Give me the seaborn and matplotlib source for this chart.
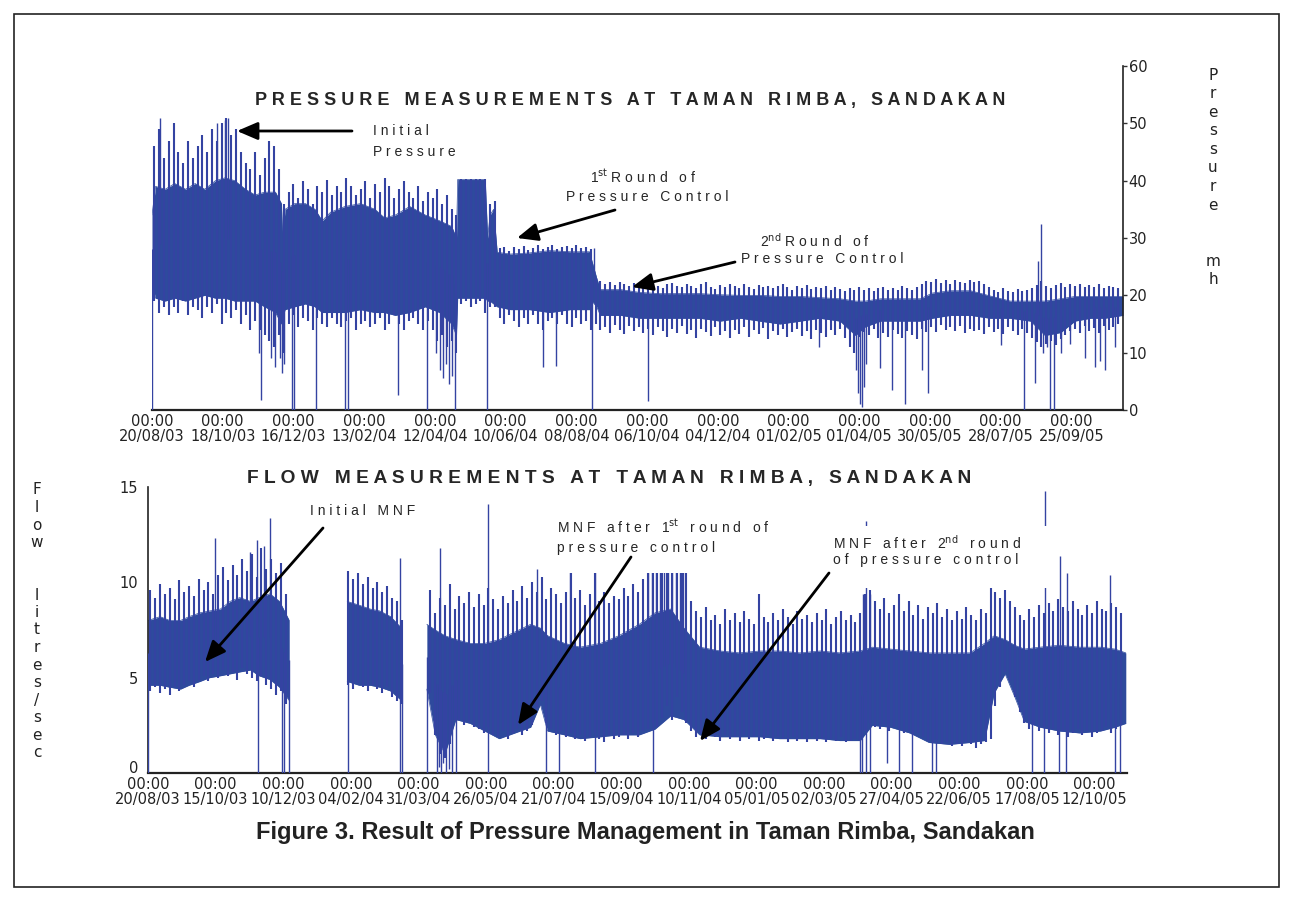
import numpy as np
import pandas as pd
import seaborn as sns
import matplotlib.pyplot as plt
from matplotlib.patches import Rectangle, FancyArrowPatch

W, H = 1293, 902
START = pd.Timestamp("2003-08-20")
FILL = "#2e4a9d"
LINE = "#3443a2"
STEP = 4  # fringe samples are every 4 days

# ---- pressure (m h), days counted from 20/08/03 ----
# solid core of the daily swing
p_day = [0, 3, 11, 19, 28, 36, 44, 53, 61, 69, 78, 86, 94, 103, 108, 109, 111, 119, 128, 136,
         142, 149, 161, 174, 186, 194, 203, 215, 228, 240, 250, 254, 255, 278, 280, 282, 285,
         288, 299, 315, 332, 349, 365, 367, 371, 374, 391, 407, 424, 441, 457, 474, 491, 507,
         524, 541, 557, 574, 587, 595, 608, 624, 641, 651, 666, 683, 699, 716, 733, 745, 758,
         770, 783, 795, 810]
p_top = [34, 39, 38.5, 39.5, 38.5, 39.5, 38.5, 40, 40.5, 40, 38.5, 37.5, 38, 38, 36, 30, 35, 36, 36, 35,
         33, 34.5, 35.5, 36, 35, 33.5, 34, 35.5, 34, 33, 32, 30, 40.2, 40.2, 30, 34, 35,
         27.5, 27.2, 27.4, 27.8, 27.6, 27.6, 26, 23, 21, 21, 20.5, 20.3, 20.3, 20.3, 20.1, 20, 20,
         19.8, 19.8, 19.6, 19.4, 19, 19, 19.4, 19.4, 19.4, 20.4, 20.8, 20.8, 19.9, 19, 19, 19, 19.4,
         19.8, 19.8, 19.8, 19.8]
p_bot = [22, 19.5, 19, 19.5, 19, 19.5, 20, 19.5, 19.5, 19, 19, 19, 18, 17, 15, 16, 17.5, 18, 18.5, 18,
         17, 17, 17, 17.5, 17, 17, 16.5, 17, 18, 17, 15, 13, 19.5, 19.5, 19, 19, 18.5,
         18, 17.5, 17.5, 17, 17.5, 17.5, 19, 18, 16.5, 16.5, 16, 16, 16, 16, 15.5, 16, 15.5,
         15, 15.5, 16, 15.5, 13, 14.5, 15.5, 15.5, 15.5, 16, 16.5, 16.5, 16, 16, 15.5, 13, 13.5,
         15.5, 16, 16, 16.5]
# daily highs / lows, one every STEP days starting on day 2
p_hi = [46, 49, 44, 47, 50, 45, 43, 47, 44, 46, 48, 45, 49, 47, 50, 51, 48, 49, 45, 43,
        42, 45, 41, 44, 47, 46, 42,
        36,
        38, 39.5, 37, 40, 38.5, 36, 39, 38, 40.2, 37.5, 39, 38, 40.5, 39, 37.5, 38.5, 40, 37,
        39.5, 38, 40.5, 39, 37, 38.5, 40, 38, 37, 39, 36.5, 38, 37, 38.5, 36, 37.5, 35,
        34,
        40.3, 40.3, 40.3, 40.3, 40.3,
        40.3, 36, 36.5,
        28.2, 28.5, 27.8, 28.4, 28, 28.6, 27.9, 28.3, 28.7, 28.1, 28.5, 28.8, 28, 28.4, 28.6,
        28.2, 28.7, 28.3, 28.5,
        28,
        23, 22.5, 22, 22.4, 21.8, 22.3, 22, 21.6, 22.2, 21.8,
        22, 21.5, 22.1, 21.7, 21.3, 21.9, 22.2, 21.6, 21.4, 22,
        21.7, 21.2, 21.9, 22.3, 21.5, 21.1, 21.8, 21.4, 22, 21.6,
        21.3, 21.9, 21.5, 21.1, 21.8, 21.4, 21.7, 21.2, 21.6, 21.9,
        21.4, 21, 21.6, 21.3, 21.8, 21.1, 21.5, 21.2, 21.7, 21,
        21.4, 21.1, 20.8, 21.3, 20.9, 21.5, 21, 21.3, 20.8, 21.2,
        21.5, 20.9, 21.3, 21, 21.6, 21.2, 20.9, 21.4, 22, 22.5,
        22.3, 22.8, 22.2, 22.6, 22, 22.7, 22.4, 22.1, 22.6, 22.3,
        22.5, 22, 21.4, 21, 20.6, 21.2, 20.8, 20.5, 21.1, 20.7,
        20.9, 21.3, 21.8, 22.5, 21.6, 21.2, 21.8, 22.1, 21.5, 21.9,
        21.6, 22, 21.4, 21.8, 21.5, 21.9, 21.3, 21.7, 21.4, 21.2]
p_lo = [19, 17, 18, 16.5, 18, 17, 19, 16.5, 18, 17.5, 16, 18, 17, 18.5, 15, 17, 16, 17.5, 15, 16.5,
        14, 15.5, 14, 13, 12, 11, 13,
        10,
        15, 16.5, 14.5, 16, 15.5, 14, 16, 15, 14.5, 16, 15, 14.5, 15.5, 16, 14, 15, 15.5, 14.5,
        15, 16, 14, 15, 16.5, 15, 14, 15.5, 16, 15, 14, 15.5, 14, 12, 13, 11, 12,
        10,
        18.5, 19, 18, 18.5, 19,
        17, 18, 18,
        16, 15, 16.5, 15.5, 14.5, 16, 15, 16.5, 15, 14, 15.5, 16, 15, 16.5, 15, 14.5, 16, 15, 15.5,
        14,
        15, 14, 14.5, 13.5, 14.8, 14, 13.2, 14.6, 13.8, 14.4,
        13.5, 14.2, 13, 14.5, 13.8, 12.8, 14.1, 13.4, 14.6, 13.2,
        13.9, 12.5, 14.2, 13.6, 12.9, 14.4, 13.1, 13.8, 12.6, 14,
        13.3, 14.5, 12.8, 13.9, 13.2, 14.3, 12.4, 13.7, 13, 14.1,
        12.7, 13.6, 14.2, 12.9, 13.8, 12.4, 14, 13.4, 12.8, 13.9,
        13.1, 14.2, 12.5, 11, 10, 12.8, 13.6, 13, 14.1, 12.6,
        13.5, 12.8, 14, 13.2, 12.5, 13.7, 13.1, 12.3, 14.2, 13.6,
        14.4, 13.6, 14.8, 13.9, 14.5, 13.8, 14.6, 13.5, 14.2, 13.7,
        14, 13.2, 14.5, 13.6, 14.1, 13.3, 14.4, 13.7, 13.1, 14.2,
        13.5, 12.6, 11.8, 11, 11.5, 12, 11.3, 12.4, 13, 13.8,
        14.2, 13.4, 14.6, 13.8, 14.3, 13.5, 14.7, 13.9, 14.4, 15]
# isolated extremes
p_up_day = [7, 54, 61, 63, 369, 739, 742]
p_up_val = [51, 50, 50.5, 51, 28.3, 26, 32.5]
p_dn_day = [0, 89, 91, 99, 103, 107, 108.5, 110, 117, 118.5, 137, 161, 163.6, 205, 229.5, 237,
            240.3, 243, 245, 248, 250, 253, 279.6, 326, 337, 367, 414, 556, 587, 589, 591, 592.5,
            594, 596, 607.5, 617.5, 628, 642.6, 647.6, 708, 727, 737, 743.5, 747, 749, 752.7, 758,
            766, 778.6, 787, 791, 795, 803.6]
p_dn_val = [0, 10, 1.7, 9, 7.5, 9, 6.5, 8, 0, 0, 0, 0, 0, 2.6, 0, 10,
            7, 5.5, 8, 4.5, 6, 0, 0, 7.5, 7.7, 0, 1.5, 11, 7, 3, 1, 0.5,
            4, 8, 7.3, 3.5, 1, 7, 3, 11.3, 0, 4.7, 10, 11, 0, 0, 10,
            11.5, 9, 7.5, 8.5, 7, 11]
p_tick_labels = ["20/08/03", "18/10/03", "16/12/03", "13/02/04", "12/04/04", "10/06/04",
                 "08/08/04", "06/10/04", "04/12/04", "01/02/05", "01/04/05", "30/05/05",
                 "28/07/05", "25/09/05"]

# ---- flow (litres/sec) ----
f_day = [0, 10, 18, 27, 34, 43, 51, 60, 68, 76, 85, 92, 101, 109, 117,
         165, 175, 184, 192, 201, 210,
         231, 238, 246, 255, 267, 279, 291, 304, 317, 325, 331, 345, 358, 375, 390, 407, 420,
         433, 444, 457, 474, 490, 507, 523, 540, 557, 573, 590, 600, 615, 631, 647, 664, 681,
         693, 701, 710, 718, 726, 739, 755, 772, 789, 801, 810]
f_seg = [1] * 15 + [2] * 6 + [3] * 45
f_top = [8.0, 8.2, 8.0, 8.0, 8.2, 8.4, 8.5, 8.6, 9.0, 9.2, 9.0, 9.2, 9.4, 9.0, 8.0,
         9.0, 8.8, 8.6, 8.5, 8.2, 7.6,
         7.8, 7.5, 7.2, 7.0, 6.8, 6.8, 7.0, 7.4, 7.8, 7.6, 7.2, 6.8, 6.6, 6.8, 7.2, 7.8, 8.4,
         8.6, 7.6, 6.6, 6.4, 6.3, 6.4, 6.4, 6.3, 6.4, 6.3, 6.4, 6.6, 6.5, 6.4, 6.3, 6.3, 6.3,
         6.8, 7.2, 7.0, 6.7, 6.5, 6.6, 6.7, 6.6, 6.6, 6.5, 6.3]
f_bot = [4.6, 4.6, 4.5, 4.4, 4.6, 4.8, 5.0, 5.1, 5.2, 5.3, 5.4, 5.1, 4.9, 4.5, 3.8,
         4.8, 4.6, 4.6, 4.5, 4.3, 3.8,
         4.4, 2.0, 1.0, 2.8, 2.6, 2.2, 1.8, 2.1, 2.4, 3.6, 2.2, 2.0, 1.8, 1.9, 2.0, 2.0, 2.3,
         3.0, 2.8, 2.0, 1.9, 1.9, 1.9, 1.8, 1.8, 1.8, 1.7, 1.7, 2.5, 2.4, 2.1, 1.6, 1.5, 1.6,
         1.7, 4.2, 5.2, 4.0, 2.7, 2.4, 2.2, 2.1, 2.2, 2.4, 2.6]
nan = np.nan
f_hi = [9.6, 9.2, 9.9, 9.4, 9.7, 9.1, 10.1, 9.5, 9.8, 9.3, 10.2, 9.6, 10.0, 9.4, 10.4,
        10.8, 10.1, 10.9, 10.4, 11.2, 10.6, 11.5, 10.3, 11.8, 10.7, 11.2, 10.5, 11.0, 9.4,
        nan, nan, nan, nan, nan, nan, nan, nan, nan, nan, nan, nan,
        10.6, 10.2, 10.5, 9.9, 10.3, 9.7, 10.0, 9.5, 9.8, 9.2, 9.0, 8.0,
        nan, nan, nan, nan, nan,
        9.6, 8.4, 9.2, 8.8, 9.9, 8.6, 9.3, 8.9, 9.5, 8.7,
        9.4, 8.8, 9.7, 9.1, 8.6, 9.3, 8.9, 9.6, 9.0, 9.8,
        9.2, 10.0, 9.5, 10.3, 9.1, 9.7, 9.4, 8.9, 9.5, 10.6,
        9.2, 9.6, 8.8, 9.4, 10.6, 9.0, 9.5, 8.9, 9.3, 9.1,
        9.7, 9.3, 9.9, 9.5, 10.2, 10.8, 11, 11, 11, 11,
        11, 11, 11, 10.6, 9.0, 8.5, 8.2, 8.7, 8.0, 8.3,
        7.8, 8.6, 8.0, 8.4, 7.9, 8.5, 8.1, 7.8, 9.4, 8.2,
        7.9, 8.4, 8.0, 8.6, 8.2, 7.8, 8.5, 8.1, 8.3, 7.9,
        8.4, 8.0, 8.6, 7.8, 8.2, 8.5, 8.0, 8.3, 7.9, 8.4,
        9.4, 9.6, 9.0, 8.6, 9.2, 8.4, 8.8, 9.4, 8.5, 9.0,
        8.3, 8.8, 8.1, 8.7, 8.4, 8.9, 8.2, 8.6, 8.0, 8.5,
        8.1, 8.7, 8.3, 8.0, 8.6, 8.4, 9.7, 9.5, 9.2, 9.6,
        9.0, 8.7, 8.3, 8.0, 8.6, 8.2, 8.8, 8.4, 8.9, 8.5,
        9.1, 8.7, 8.5, 9.0, 8.6, 8.3, 8.8, 8.4, 9.0, 8.6,
        8.5, 8.9, 8.7, 8.4]
f_lo = [4.3, 4.5, 4.2, 4.4, 4.1, 4.5, 4.3, 4.6, 4.8, 4.5, 4.9, 5.1, 4.8, 5.2, 5.0,
        5.4, 5.1, 5.3, 4.9, 5.5, 5.2, 5.0, 4.8, 5.1, 4.6, 4.4, 4.1, 4.3, 3.6,
        nan, nan, nan, nan, nan, nan, nan, nan, nan, nan, nan, nan,
        4.6, 4.4, 4.7, 4.5, 4.3, 4.6, 4.4, 4.2, 4.5, 4.0, 3.8, 3.6,
        nan, nan, nan, nan, nan,
        4.2, 2.0, 1.0, 0.8, 1.5, 2.8, 2.8, 2.5, 2.7, 2.4,
        2.3, 2.1, 2.4, 2.0, 1.9, 2.2, 1.8, 2.1, 2.3, 2.0,
        2.2, 2.5, 3.4, 3.8, 2.6, 2.3, 2.0, 2.2, 1.9, 2.1,
        1.8, 2.0, 1.7, 1.9, 2.1, 1.8, 1.6, 2.0, 1.8, 1.9,
        2.0, 1.8, 2.1, 1.9, 2.2, 2.3, 2.6, 2.4, 2.9, 3.5,
        2.8, 4.0, 3.2, 2.6, 2.2, 1.9, 2.1, 1.8, 2.0, 1.9,
        1.7, 2.0, 1.8, 1.9, 1.7, 2.0, 1.8, 1.9, 1.7, 1.8,
        2.0, 1.7, 1.9, 1.8, 1.6, 1.9, 1.7, 1.8, 1.6, 1.9,
        1.7, 1.8, 1.6, 1.8, 1.7, 1.9, 1.6, 1.7, 1.8, 1.7,
        2.2, 2.6, 2.4, 2.3, 2.5, 2.2, 2.4, 2.3, 2.1, 2.2,
        2.0, 2.1, 1.9, 1.7, 1.6, 1.8, 1.5, 1.6, 1.4, 1.5,
        1.4, 1.6, 1.5, 1.3, 1.5, 1.6, 1.8, 3.5, 4.5, 5.3,
        4.8, 4.0, 3.2, 2.6, 2.3, 2.5, 2.2, 2.4, 2.1, 2.3,
        2.0, 2.2, 1.9, 2.1, 2.3, 2.0, 2.2, 1.9, 2.1, 2.2,
        2.4, 2.1, 2.3, 2.5]
f_up_day = [55.5, 84.5, 90.3, 96.1, 101, 208.7, 241.8, 281.5, 322.1, 349.4, 370.2, 414, 417.5,
            421, 424, 427.5, 431, 434, 437.5, 440.5, 443.5, 592, 594.6, 597.8, 742.8, 755.9,
            761.7, 796.6]
f_up_val = [12.3, 11.6, 12.2, 11.9, 13.4, 11.3, 11.8, 14.1, 10.7, 11, 11, 11, 11,
            11, 11, 11, 11, 11, 11, 11, 10.8, 9.4, 13.2, 9.4, 14.8, 11.4,
            10.5, 10.4]
f_dn_day = [0, 91.1, 110.9, 112.6, 116.7, 165.6, 208.7, 210.3, 231.1, 239.3, 240.9, 242.6,
            244.3, 246.7, 249.2, 251.8, 255, 281.5, 329.5, 340.3, 370.2, 418.1, 589.6, 591.2,
            594.6, 597.9, 611.9, 621.8, 632.6, 649.2, 652.5, 731.9, 741.9, 754.3, 760.2, 800.7,
            804.8]
f_dn_val = [0, 0, 0, 0, 0, 0, 0, 0, 0, 0, 0.3, 0,
            0.5, 0, 0.2, 0, 0, 0, 0, 0, 0, 0, 0, 0,
            0, 0, 0.5, 0, 0, 0, 0, 0, 0, 0, 0, 0,
            0]
f_tick_labels = ["20/08/03", "15/10/03", "10/12/03", "04/02/04", "31/03/04", "26/05/04",
                 "21/07/04", "15/09/04", "10/11/04", "05/01/05", "02/03/05", "27/04/05",
                 "22/06/05", "17/08/05", "12/10/05"]

sns.set_theme(style="white")
plt.rcParams["font.family"] = ["Liberation Sans", "DejaVu Sans"]


def to_date(days):
    return START + pd.to_timedelta(np.asarray(days, dtype=float), unit="D")


def fx(x):
    return x / W


def fy(y):
    return 1 - y / H


def spaced(s):
    return "   ".join(" ".join(w) for w in s.split(" "))


def draw(ax, day, top, bot, seg, hi, lo, up_day, up_val, dn_day, dn_val):
    df = pd.DataFrame({"day": day, "top": top, "bot": bot, "seg": seg})
    df["date"] = to_date(df["day"])
    for _, g in df.groupby("seg"):
        ax.fill_between(g["date"], g["bot"], g["top"], color=FILL, lw=0, zorder=2)
    for col in ["top", "bot"]:
        sns.lineplot(data=df, x="date", y=col, units="seg", estimator=None,
                     color=FILL, lw=0.5, ax=ax, zorder=2)
    # daily swing fringe
    fringe_day = STEP * np.arange(len(hi)) + STEP / 2
    ax.vlines(to_date(fringe_day), np.array(lo, dtype=float), np.array(hi, dtype=float),
              color=LINE, lw=1.5, zorder=3)
    mid = (df["top"] + df["bot"]) / 2
    base = np.interp(up_day, df["day"], mid)
    ax.vlines(to_date(up_day), base, up_val, color=LINE, lw=1.0, zorder=3)
    base = np.interp(dn_day, df["day"], mid)
    ax.vlines(to_date(dn_day), dn_val, base, color=LINE, lw=1.0, zorder=3)
    ax.set_xlabel("")
    ax.set_ylabel("")


def style_x(ax, labels):
    ax.set_xticks(pd.to_datetime(labels, format="%d/%m/%y"))
    ax.set_xticklabels(["00:00\n" + t for t in labels], fontfamily="DejaVu Sans",
                       fontsize=10.5, linespacing=1.0, color="#222")
    ax.tick_params(axis="x", length=0, pad=3)


fig = plt.figure(figsize=(W / 100, H / 100), dpi=100)

# pressure panel
ax_p = fig.add_axes([fx(152), fy(410), (1123 - 152) / W, (410 - 66) / H])
draw(ax_p, p_day, p_top, p_bot, [0] * len(p_day), p_hi, p_lo,
     p_up_day, p_up_val, p_dn_day, p_dn_val)
ax_p.set_xlim(START, START + pd.Timedelta(days=810))
ax_p.set_ylim(0, 60)
ax_p.yaxis.tick_right()
ax_p.set_yticks(range(0, 61, 10))
ax_p.set_yticklabels([str(v) for v in range(0, 61, 10)], fontfamily="DejaVu Sans",
                     fontsize=10.5, color="#222")
ax_p.tick_params(axis="y", right=True, left=False, length=3, width=1, pad=1, color="#333")
style_x(ax_p, p_tick_labels)
for s in ["left", "top"]:
    ax_p.spines[s].set_visible(False)
ax_p.spines["bottom"].set_linewidth(1.6)
ax_p.spines["right"].set_linewidth(1.2)
for s in ["bottom", "right"]:
    ax_p.spines[s].set_color("#222")

# flow panel
ax_f = fig.add_axes([fx(148), fy(773), (1127 - 148) / W, (773 - 487) / H])
draw(ax_f, f_day, f_top, f_bot, f_seg, f_hi, f_lo, f_up_day, f_up_val, f_dn_day, f_dn_val)
ax_f.set_xlim(START, START + pd.Timedelta(days=811))
ax_f.set_ylim(0, 15)
ax_f.set_yticks([0, 5, 10, 15])
ax_f.set_yticklabels(["0", "5", "10", "15"], fontfamily="DejaVu Sans", fontsize=10.5,
                     color="#222")
ax_f.get_yticklabels()[0].set_verticalalignment("baseline")
ax_f.tick_params(axis="y", left=True, length=0, pad=7)
style_x(ax_f, f_tick_labels)
for s in ["right", "top"]:
    ax_f.spines[s].set_visible(False)
ax_f.spines["bottom"].set_linewidth(1.6)
ax_f.spines["left"].set_linewidth(1.2)
for s in ["bottom", "left"]:
    ax_f.spines[s].set_color("#222")


def ftext(x, y, s, **kw):
    kw.setdefault("va", "center")
    kw.setdefault("zorder", 7)
    fig.text(fx(x), fy(y), s, **kw)


def arrow(x0, y0, x1, y1):
    fig.add_artist(FancyArrowPatch((fx(x0), fy(y0)), (fx(x1), fy(y1)),
                                   transform=fig.transFigure,
                                   arrowstyle="-|>,head_length=0.7,head_width=0.3",
                                   mutation_scale=18, lw=2, color="black",
                                   shrinkA=0, shrinkB=0, zorder=6))


def white_box(x0, y0, x1, y1):
    fig.add_artist(Rectangle((fx(x0), fy(y1)), (x1 - x0) / W, (y1 - y0) / H,
                             transform=fig.transFigure, facecolor="white",
                             edgecolor="none", zorder=5))


# titles
ftext(630, 100, spaced("PRESSURE MEASUREMENTS AT TAMAN RIMBA, SANDAKAN"), ha="center",
      fontsize=13, fontweight="bold")
ftext(609, 478, spaced("FLOW MEASUREMENTS AT TAMAN RIMBA, SANDAKAN"), ha="center",
      fontsize=13.8, fontweight="bold")

# pressure notes
ftext(373, 131, spaced("Initial"), fontsize=10)
ftext(373, 152, spaced("Pressure"), fontsize=10)
arrow(352, 131, 237, 131)
ftext(643, 177, "1$^{\\rm st}$ " + spaced("Round of"), ha="center", fontsize=10)
ftext(647, 197, spaced("Pressure Control"), ha="center", fontsize=10)
arrow(615, 210, 517, 238)
ftext(815, 241, "2$^{\\rm nd}$ " + spaced("Round of"), ha="center", fontsize=10)
ftext(822, 259, spaced("Pressure Control"), ha="center", fontsize=10)
arrow(735, 262, 632, 287)

# flow notes
white_box(545, 505, 800, 573)
white_box(825, 526, 1055, 588)
ftext(310, 511, spaced("Initial MNF"), fontsize=10)
arrow(323, 528, 205, 662)
ftext(557, 527, spaced("MNF after") + "   1$^{\\rm st}$   " + spaced("round of"), fontsize=10)
ftext(557, 548, spaced("pressure control"), fontsize=10)
arrow(631, 557, 518, 725)
ftext(833, 543, spaced("MNF after") + "   2$^{\\rm nd}$   " + spaced("round"), fontsize=10)
ftext(833, 560, spaced("of pressure control"), fontsize=10)
arrow(829, 573, 700, 741)

# stacked axis names
for i, ch in enumerate("Pressure  mh"):
    ftext(1213, 75 + i * 18.6, ch, ha="center", fontsize=11, fontfamily="DejaVu Sans",
          color="#222")
for i, ch in enumerate("Flow  litres/sec"):
    ftext(37, 490 + i * 17.5, ch, ha="center", fontsize=11, fontfamily="DejaVu Sans",
          color="#222")

ftext(645, 832, "Figure 3. Result of Pressure Management in Taman Rimba, Sandakan",
      ha="center", fontsize=17, fontweight="bold", color="#222")

fig.add_artist(Rectangle((fx(14), fy(887)), (1279 - 14) / W, (887 - 14) / H,
                         transform=fig.transFigure, fill=False, lw=1.2, edgecolor="#222"))

fig.savefig("out.png", dpi=100)
